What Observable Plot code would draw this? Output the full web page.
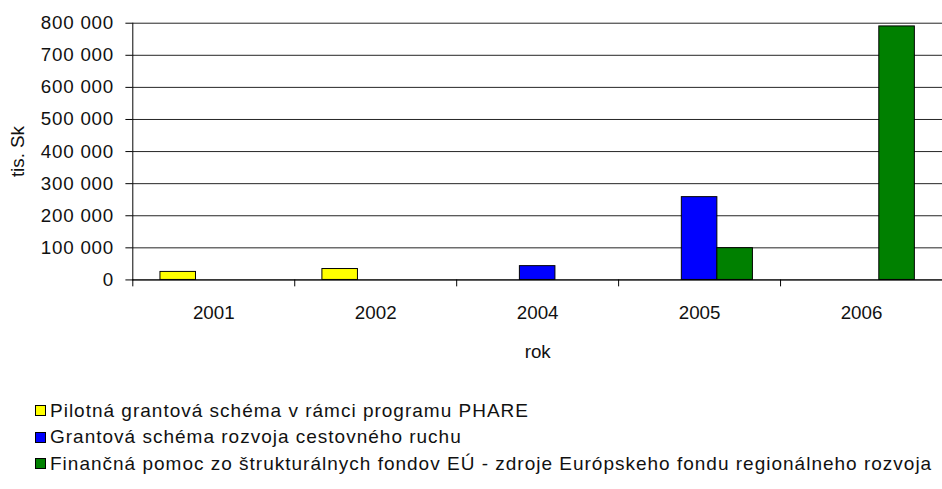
<!DOCTYPE html>
<html>
<head>
<meta charset="utf-8">
<script src="https://cdn.jsdelivr.net/npm/d3@7"></script>
<script src="https://cdn.jsdelivr.net/npm/@observablehq/plot@0.6"></script>
<style>
  html, body { margin: 0; padding: 0; background: #fff; overflow: hidden; width: 942px; height: 489px; }
  #chart svg { display: block; }
  #chart svg g[aria-label="y-axis tick label"] text { letter-spacing: 0.8px; }
  #legend { font-family: "Liberation Sans", Arial, sans-serif; font-size: 19px; letter-spacing: 1px; color: #111; padding-top: 32px; }
  .row { display: flex; align-items: center; height: 26.5px; }
  .sw { width: 9px; height: 9px; border: 1px solid #000; margin-left: 35px; margin-right: 4px; flex: none; }
</style>
</head>
<body>
<div id="chart"></div>
<div id="legend"></div>
<script>
const years = ["2001", "2002", "2004", "2005", "2006"];
const seriesNames = [
  "Pilotná grantová schéma v rámci programu PHARE",
  "Grantová schéma rozvoja cestovného ruchu",
  "Finančná pomoc zo štrukturálnych fondov EÚ - zdroje Európskeho fondu regionálneho rozvoja"
];
const seriesColors = ["#ffff00", "#0000ff", "#008000"];
const phareValues = [25000, 34000, 0, 0, 0];
const grantValues = [0, 0, 43000, 258000, 0];
const euValues = [0, 0, 0, 99000, 790000];
const yTicks = [0, 100000, 200000, 300000, 400000, 500000, 600000, 700000, 800000];

const allValues = [phareValues, grantValues, euValues];
const fmt = d => d3.format(",")(d).replace(/,/g, " ");

const barMarks = allValues.map((vals, i) => {
  const data = years.map((year, j) => ({year, value: vals[j]})).filter(d => d.value > 0);
  return Plot.barY(data, {x: "year", y: "value", fill: seriesColors[i], stroke: "#000", strokeWidth: 1, dx: (i - 1) * 36});
});

const chart = Plot.plot({
  width: 954,
  height: 370,
  marginLeft: 134,
  marginRight: 0,
  marginTop: 23,
  marginBottom: 87,
  style: {fontFamily: "'Liberation Sans', Arial, sans-serif", fontSize: "19px", color: "#111", background: "#fff", overflow: "visible"},
  x: {type: "band", domain: years, paddingInner: 0.78, paddingOuter: 0.39, axis: null},
  y: {domain: [0, 800000], axis: null},
  marks: [
    Plot.gridY(yTicks, {stroke: "#222", strokeOpacity: 1}),
    Plot.frame({anchor: "left", stroke: "#000"}),
    ...barMarks,
    Plot.ruleY([0], {stroke: "#000"}),
    Plot.axisY(yTicks, {tickSize: 7, tickPadding: 12, tickFormat: fmt, stroke: "#000", fill: "#111", label: "tis. Sk", labelAnchor: "center", labelOffset: 124, labelArrow: "none"}),
    Plot.axisX(years, {tickSize: 7, tickFormat: () => "", dx: -82, stroke: "#000", label: null}),
    Plot.axisX(years, {tickSize: 0, tickPadding: 26, fill: "#111", label: "rok", labelAnchor: "center", labelOffset: 79, labelArrow: "none"})
  ]
});
document.getElementById("chart").append(chart);

const legend = document.getElementById("legend");
seriesNames.forEach((name, i) => {
  const row = document.createElement("div");
  row.className = "row";
  const sw = document.createElement("span");
  sw.className = "sw";
  sw.style.background = seriesColors[i];
  const t = document.createElement("span");
  t.textContent = name;
  row.append(sw, t);
  legend.append(row);
});
</script>
</body>
</html>
